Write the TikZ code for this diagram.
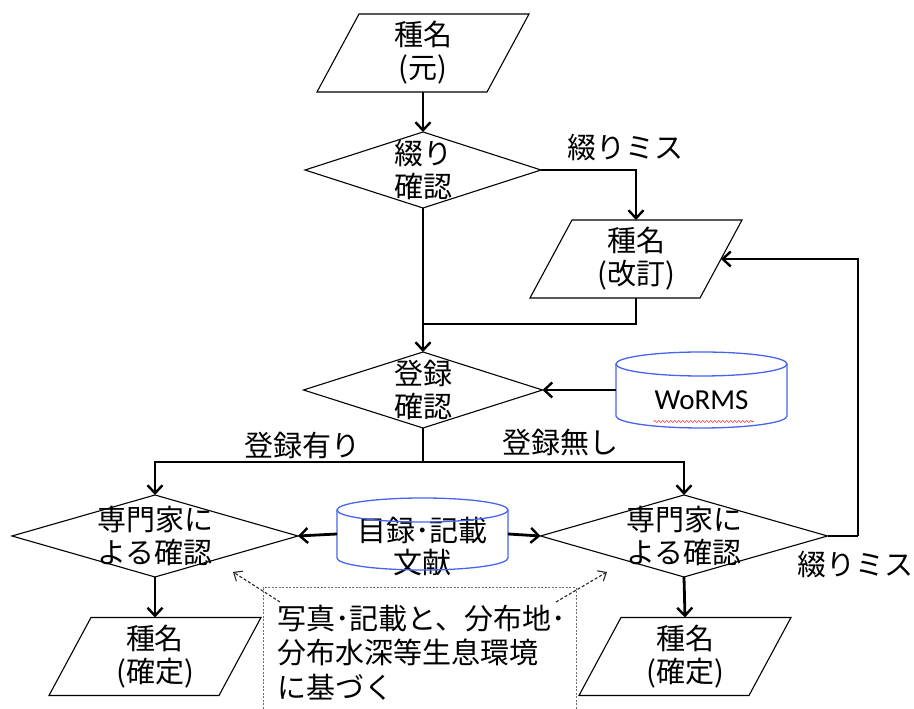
\documentclass[tikz,border=0pt]{standalone}
\usepackage{fontspec}
\setmainfont{Noto Sans CJK JP}
\newfontfamily\latinfont{Carlito}
\usetikzlibrary{arrows.meta,calc,decorations.pathmorphing}
\definecolor{cylblue}{RGB}{70,100,240}
\definecolor{boxgray}{RGB}{110,110,110}
\newcommand{\jp}{\fontsize{29}{33}\selectfont}
\tikzset{
  txt/.style={font=\jp, align=center, inner sep=0pt, outer sep=0pt},
  shapebox/.style n args={2}{txt, minimum width=#1, minimum height=#2},
  outline/.style={line width=1.1pt, line join=miter},
  cylline/.style={draw=cylblue, line width=1.3pt},
  conn/.style={line width=2.8pt, line join=miter},
  arr/.style={conn, -{Straight Barb[length=8pt,width=15pt,line width=2.4pt]}},
  dasharr/.style={line width=1.1pt, draw=black!85, dash pattern=on 3pt off 2pt, -{Straight Barb[length=7pt,width=12pt,line width=1.1pt]}},
}
\begin{document}
\begin{tikzpicture}[x=1pt,y=1pt]
\useasboundingbox (0,0) rectangle (914,709);

% ---- nodes ----
\node[shapebox={212pt}{78pt}] (p1) at (423,656) {種名\\(元)};
\node[shapebox={236pt}{76pt}] (d1) at (423,539) {綴り\\確認};
\node[shapebox={212pt}{78pt}] (p2) at (636,450) {種名\\(改訂)};
\node[shapebox={239pt}{76pt}] (d2) at (423,319) {登録\\確認};
\node[shapebox={171pt}{76pt}] (worms) at (701.5,319) {};
\node[txt, font=\latinfont\fontsize{29}{33}\selectfont] (wormstxt) at (701.5,309) {WoRMS};
\node[shapebox={286pt}{82pt}] (d3) at (155,173) {専門家に\\よる確認};
\node[shapebox={287pt}{82pt}] (d4) at (684,173) {専門家に\\よる確認};
\node[shapebox={171pt}{72pt}] (lit) at (422.5,175) {};
\node[txt, font=\fontsize{29}{32}\selectfont] (littxt) at (422.5,163) {目録･記載\\文献};
\node[shapebox={212pt}{78pt}] (p3) at (155,52.5) {種名\\(確定)};
\node[shapebox={212pt}{78pt}] (p4) at (685,52.5) {種名\\(確定)};

\node[txt] (l1) at (625,561) {綴りミス};
\node[txt] (l2) at (302,264) {登録有り};
\node[txt] (l3) at (560,266) {登録無し};
\node[txt, anchor=east] (l4) at (913,144) {綴りミス};

\node[txt, font=\fontsize{29}{34.5}\selectfont, align=left, anchor=north west] (tb) at (277,104)
  {写真･記載と、分布地･\\分布水深等生息環境\\に基づく};

% ---- outlines ----
\foreach \p in {p1,p2,p3,p4}{
  \draw[outline] (\p.south west) -- ([xshift=-42pt]\p.south east) -- (\p.north east)
    -- ([xshift=42pt]\p.north west) -- cycle;
}
\foreach \d in {d1,d2,d3,d4}{
  \draw[outline] (\d.north) -- (\d.east) -- (\d.south) -- (\d.west) -- cycle;
}
\foreach \c/\rx in {worms/85.5, lit/85.5}{
  \draw[cylline] ([yshift=-12pt]\c.north) ellipse [x radius=\rx pt, y radius=12pt];
  \draw[cylline] ([yshift=-12pt]\c.north west) -- ([yshift=12pt]\c.south west)
    arc [start angle=180, end angle=360, x radius=\rx pt, y radius=12pt]
    -- ([yshift=-12pt]\c.north east);
}
% spell-check underline
\draw[red!80, line width=0.6pt, decorate, decoration={snake, amplitude=1pt, segment length=4pt}]
  ([xshift=-48pt,yshift=-12pt]wormstxt.south) -- ([xshift=52pt,yshift=-12pt]wormstxt.south);

% dashed text frame
\draw[boxgray, line width=1pt, dash pattern=on 2pt off 1.5pt] (263,0) -- (263,121) -- (576,121) -- (576,0);

% ---- connectors ----
\coordinate (p2r) at ([xshift=-21pt]p2.east);
\coordinate (j1) at (423,385);
\coordinate (br) at (423,247);
\coordinate (fb) at (858,173);
\coordinate (ds1) at (280,107);
\coordinate (de1) at (233,137);
\coordinate (ds2) at (556,107);
\coordinate (de2) at (607,137);

\draw[arr] (p1.south) -- (d1.north);
\draw[arr] (d1.east) -| (p2.north);
\draw[arr] (d1.south) -- (d2.north);
\draw[conn] (p2.south) |- (j1);
\draw[arr] (worms.west) -- (d2.east);
\draw[conn] (d2.south) -- (br);
\draw[arr] (br) -| (d3.north);
\draw[arr] (br) -| (d4.north);
\draw[arr] (lit.west) -- (d3.east);
\draw[arr] (lit.east) -- (d4.west);
\draw[conn] (d4.east) -- (fb);
\draw[arr] (fb) |- (p2r);
\draw[arr] (d3.south) -- (p3.north);
\draw[arr] (d4.south) -- (p4.north);
\draw[dasharr] (ds1) -- (de1);
\draw[dasharr] (ds2) -- (de2);
\end{tikzpicture}
\end{document}
